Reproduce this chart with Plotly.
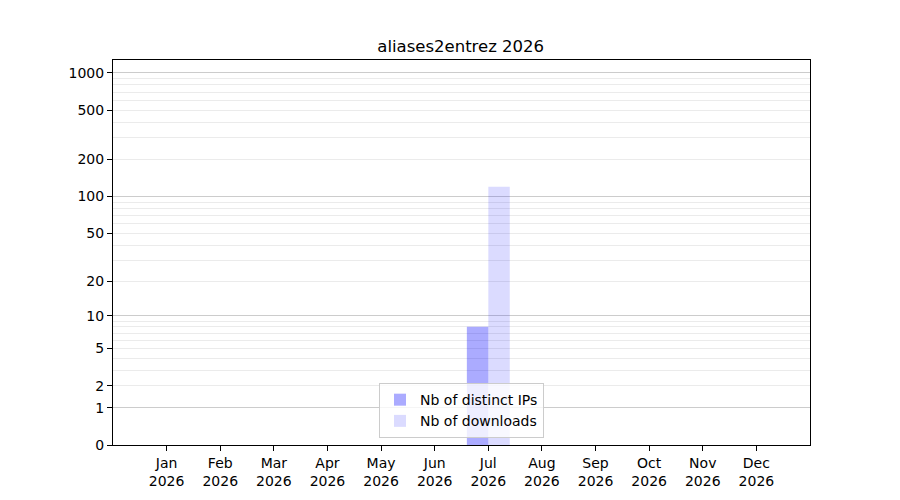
import plotly.graph_objects as go

months = ["Jan", "Feb", "Mar", "Apr", "May", "Jun", "Jul", "Aug", "Sep", "Oct", "Nov", "Dec"]
year = "2026"
distinct_ips = [0, 0, 0, 0, 0, 0, 8, 0, 0, 0, 0, 0]
downloads = [0, 0, 0, 0, 0, 0, 120, 0, 0, 0, 0, 0]
tick_values = [0, 1, 2, 5, 10, 20, 50, 100, 200, 500, 1000]
major_grid = [1, 10, 100, 1000]
minor_grid = [2, 3, 4, 5, 6, 7, 8, 9, 20, 30, 40, 50, 60, 70, 80, 90,
              200, 300, 400, 500, 600, 700, 800, 900]
title = "aliases2entrez 2026"

# axis shows value+1 on a log scale (log1p-like scale)
shift = lambda vals: [v + 1 for v in vals]
cats = [f"{m}<br>{year}" for m in months]
yrange = [0, 3.105]
font = dict(family="DejaVu Sans", size=14, color="black")

fig = go.Figure()
fig.add_trace(go.Bar(x=cats, y=shift(distinct_ips), name="Nb of distinct IPs",
                     marker=dict(color="rgba(0,0,255,0.33)", line=dict(width=0))))
fig.add_trace(go.Bar(x=cats, y=shift(downloads), name="Nb of downloads",
                     marker=dict(color="rgba(0,0,255,0.14)", line=dict(width=0))))
# invisible trace to make the overlay axis carry the major grid lines
fig.add_trace(go.Scatter(x=[cats[0]], y=[1], yaxis="y2", mode="markers",
                         marker=dict(opacity=0), showlegend=False, hoverinfo="skip"))

fig.update_layout(
    width=900, height=500,
    paper_bgcolor="white", plot_bgcolor="white",
    margin=dict(l=105, r=98, t=52, b=63),
    font=font,
    title=dict(text=title, x=0.503, xanchor="center", y=0.912, yanchor="bottom",
               font=dict(family="DejaVu Sans", size=16.5, color="black")),
    barmode="group", bargap=0.2, bargroupgap=0,
    showlegend=True,
    legend=dict(x=0.5, xanchor="center", y=0.018, yanchor="bottom",
                bgcolor="rgba(255,255,255,0.8)", bordercolor="#cccccc", borderwidth=1,
                font=dict(family="DejaVu Sans", size=14, color="black"),
                itemwidth=30, tracegroupgap=0),
    xaxis=dict(type="category", range=[-1, 12], showline=True, mirror=True,
               linecolor="black", linewidth=1, ticks="outside", ticklen=5,
               tickcolor="black", showgrid=False, zeroline=False,
               tickfont=font),
    yaxis=dict(type="log", range=yrange, showline=True, mirror=True,
               linecolor="black", linewidth=1, ticks="outside", ticklen=5,
               tickcolor="black", showgrid=False, zeroline=False,
               tickmode="array", tickvals=shift(tick_values),
               ticktext=[str(v) for v in tick_values], tickfont=font,
               minor=dict(tickmode="array", tickvals=shift(minor_grid), ticks="",
                          showgrid=True, gridcolor="#ebebeb", gridwidth=1)),
    yaxis2=dict(type="log", range=yrange, overlaying="y", side="left",
                showline=False, showticklabels=False, ticks="",
                tickmode="array", tickvals=shift(major_grid),
                showgrid=True, gridcolor="#cccccc", gridwidth=1, zeroline=False),
)

fig.write_html("out.html")
